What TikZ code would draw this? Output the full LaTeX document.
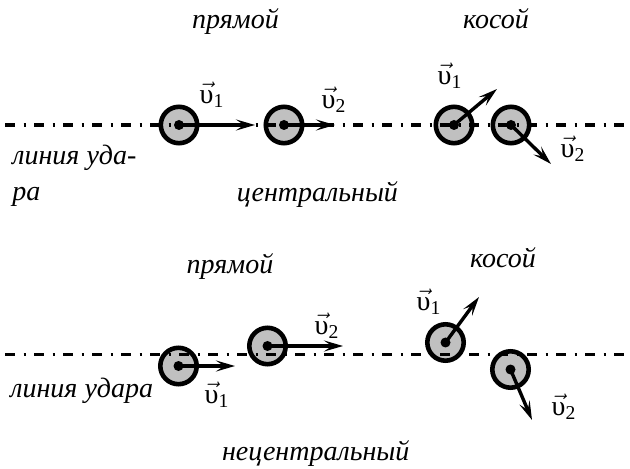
\documentclass[tikz,border=0pt]{standalone}
\usepackage{amsmath}
\usepackage{fontspec}
\setmainfont{Liberation Serif}[Script=Cyrillic,Language=Russian,ItalicFont={Liberation Serif Italic}]
\usetikzlibrary{arrows.meta}
\definecolor{ballgray}{RGB}{192,192,192}
\newcommand\vel[1]{$\vec{\text{\upshape υ}}_{\text{\upshape #1}}$}
\begin{document}
\begin{tikzpicture}[x=0.5pt,y=-0.5pt,
  ball/.style={circle,draw,line width=2.3pt,fill=ballgray,minimum size=18.2pt,inner sep=0pt},
  velarrow/.style={-{Stealth[length=9.5pt,width=5.5pt,inset=4pt]},line width=1.7pt},
  impact/.style={line width=1.6pt,dash pattern=on 5pt off 4.25pt on 1pt off 4.25pt},
  lbl/.style={font=\fontsize{14}{17}\selectfont\itshape,inner sep=0pt},
  vlab/.style={font=\fontsize{14}{17}\selectfont,inner sep=0pt}]
\useasboundingbox (0,0) rectangle (630,469);

% ---------- top: central ----------
\node[lbl,anchor=base] (t1) at (235.5,29) {прямой};
\node[lbl,anchor=base] (t2) at (496,29) {косой};

\node[ball] (a1) at (179,125) {};
\node[ball] (a2) at (284,125) {};
\node[ball] (b1) at (454,125) {};
\node[ball] (b2) at (511,125) {};

\coordinate (l1s) at (5,125);
\coordinate (l1e) at (625,125);
\draw[impact] (l1s) -- (l1e);

\coordinate (a1t) at (255,125);
\coordinate (a2t) at (335,125);
\coordinate (b1t) at (497,89);
\coordinate (b2t) at (551,164);
\draw[velarrow] (a1.center) -- (a1t);
\draw[velarrow] (a2.center) -- (a2t);
\draw[velarrow] (b1.center) -- (b1t);
\draw[velarrow] (b2.center) -- (b2t);
\foreach \n in {a1,a2,b1,b2} \fill (\n.center) circle (5);

\node[vlab] (va1) at (212,95) {\vel{1}};
\node[vlab] (va2) at (334,100) {\vel{2}};
\node[vlab] (vb1) at (450,76) {\vel{1}};
\node[vlab] (vb2) at (573,149) {\vel{2}};

\node[lbl,anchor=base west] (ln1) at (12,165) {линия уда-};
\node[lbl,anchor=base west] (ln2) at (12,201) {ра};
\node[lbl,anchor=base] (c1) at (317.5,202) {центральный};

% ---------- bottom: non-central ----------
\node[lbl,anchor=base] (t3) at (230,274) {прямой};
\node[lbl,anchor=base] (t4) at (503,268) {косой};

\node[ball] (c1b) at (178.5,366) {};
\node[ball] (c2b) at (267.5,346) {};
\node[ball] (d1) at (445.5,342.5) {};
\node[ball] (d2) at (510.5,369.5) {};

\coordinate (l2s) at (5,354.5);
\coordinate (l2e) at (625,354.5);
\draw[impact] (l2s) -- (l2e);

\coordinate (c1t) at (235,366);
\coordinate (c2t) at (343,346);
\coordinate (d1t) at (479,297);
\coordinate (d2t) at (532,420);
\draw[velarrow] (c1b.center) -- (c1t);
\draw[velarrow] (c2b.center) -- (c2t);
\draw[velarrow] (d1.center) -- (d1t);
\draw[velarrow] (d2.center) -- (d2t);
\foreach \n in {c1b,c2b,d1,d2} \fill (\n.center) circle (5);

\node[vlab] (vc1) at (217,395) {\vel{1}};
\node[vlab] (vc2) at (327,326) {\vel{2}};
\node[vlab] (vd1) at (429,302) {\vel{1}};
\node[vlab] (vd2) at (564,407) {\vel{2}};

\node[lbl,anchor=base west] (ln3) at (10,397) {линия удара};
\node[lbl,anchor=base] (nc) at (315.7,460) {нецентральный};
\end{tikzpicture}
\end{document}
